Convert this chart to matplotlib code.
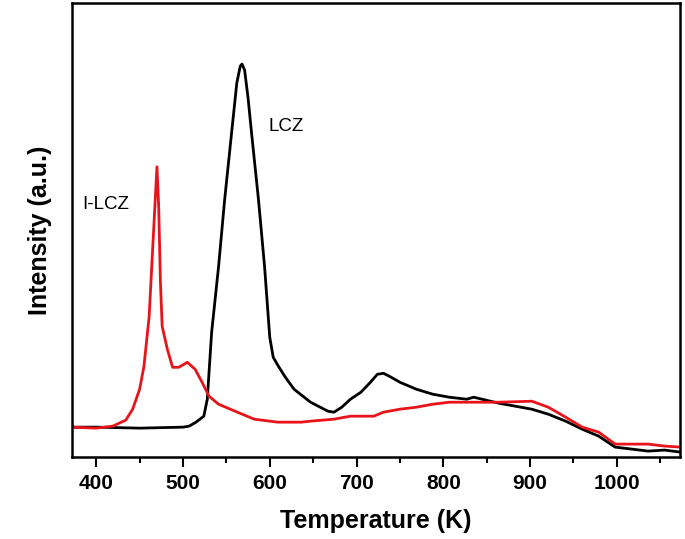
import numpy as np
import matplotlib
matplotlib.use("Agg")
import matplotlib.pyplot as plt
from matplotlib.ticker import MultipleLocator

plt.rcParams['font.family'] = ['Liberation Sans', 'DejaVu Sans']

# LCZ (black)
t_lcz = [372, 400, 450, 500, 507, 515, 524, 528, 533, 541, 548, 556, 562, 566, 568,
         571, 575, 579, 587, 594, 600, 604, 610, 618, 628, 647, 667, 674, 683, 693, 705,
         716, 724, 731, 740, 750, 769, 788, 807, 827, 835, 864, 902, 921, 941, 960,
         979, 998, 1017, 1036, 1055, 1073]
i_lcz = [30, 30, 29, 30, 31, 35, 41, 58, 125, 191, 258, 325, 375, 392, 394,
         388, 360, 325, 258, 191, 120, 100, 91, 80, 68, 55, 46, 45, 50, 58, 65,
         75, 83, 84, 80, 75, 68, 63, 60, 58, 60, 54, 48, 43, 36, 28,
         21, 10, 8, 6, 7, 5]

# I-LCZ (red)
t_ilcz = [372, 400, 419, 434, 442, 450, 455, 461, 465, 468, 470, 472, 474, 476,
          482, 488, 495, 505, 514, 522, 530, 541, 560, 582, 609, 636, 647, 674,
          693, 720, 731, 750, 769, 788, 807, 827, 864, 902, 921, 941, 960, 979,
          998, 1017, 1036, 1055, 1073]
i_ilcz = [30, 29, 31, 37, 48, 68, 91, 141, 208, 258, 291, 251, 175, 131,
          108, 90, 90, 95, 88, 75, 61, 53, 46, 38, 35, 35, 36, 38,
          41, 41, 45, 48, 50, 53, 55, 55, 55, 56, 50, 40, 30, 25,
          13, 13, 13, 11, 10]

fig = plt.figure(figsize=(6.85, 5.39), dpi=100)
ax = fig.add_axes([0.105, 0.152, 0.888, 0.842])

ax.plot(t_lcz, i_lcz, color='black', lw=2.0)
ax.plot(t_ilcz, i_ilcz, color='#e8141a', lw=2.0)

ax.text(619, 331, 'LCZ', fontsize=13.5, ha='center', va='center')
ax.text(411, 253, 'I-LCZ', fontsize=13.5, ha='center', va='center')

ax.set_xlim(372, 1073)
ax.set_ylim(0, 455)
ax.xaxis.set_major_locator(MultipleLocator(100))
ax.xaxis.set_minor_locator(MultipleLocator(50))
ax.tick_params(axis='x', which='major', direction='out', length=7, width=1.5,
               labelsize=15, pad=5)
ax.tick_params(axis='x', which='minor', direction='out', length=4, width=1.5)
ax.set_yticks([])
for lab in ax.get_xticklabels():
    lab.set_fontweight('bold')
for sp in ax.spines.values():
    sp.set_linewidth(1.8)

ax.set_xlabel('Temperature (K)', fontsize=18, fontweight='bold', labelpad=12)
ax.set_ylabel('Intensity (a.u.)', fontsize=18, fontweight='bold', labelpad=14)

fig.savefig('out.png', dpi=100)
